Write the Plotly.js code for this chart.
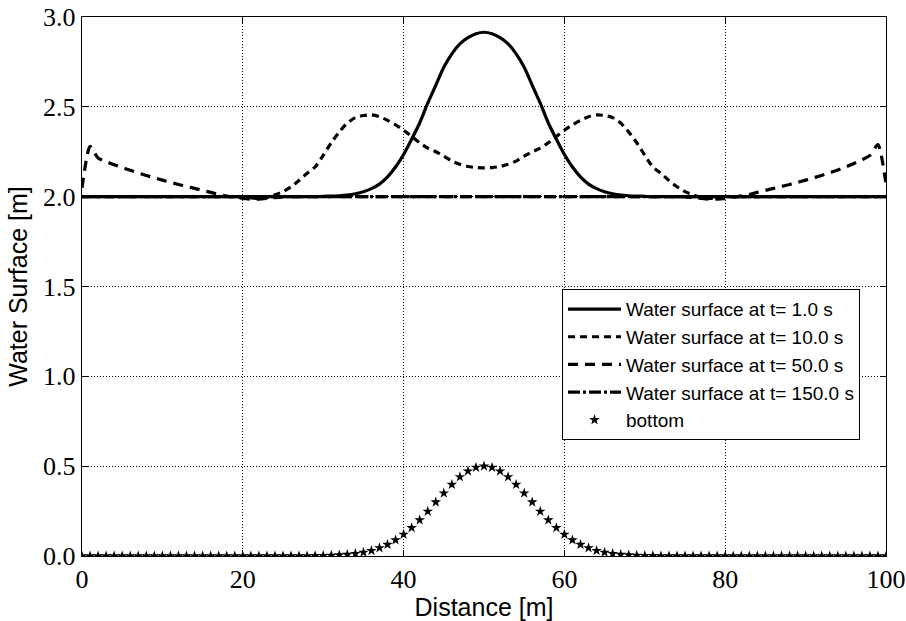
<!DOCTYPE html>
<html>
<head>
<meta charset="utf-8">
<script src="https://cdn.plot.ly/plotly-3.0.1.min.js"></script>
</head>
<body style="margin:0">
<div id="chart"></div>
<script>
// Distance [m]
const distance = [0,1,2,3,4,5,6,7,8,9,10,11,12,13,14,15,16,17,18,19,20,21,22,23,24,25,26,27,28,29,30,31,32,33,34,35,36,37,38,39,40,41,42,43,44,45,46,47,48,49,50,51,52,53,54,55,56,57,58,59,60,61,62,63,64,65,66,67,68,69,70,71,72,73,74,75,76,77,78,79,80,81,82,83,84,85,86,87,88,89,90,91,92,93,94,95,96,97,98,99,100];

// Water surface at t = 1.0 s
const surfT1 = [
2.0,2.0,2.0,2.0,2.0,2.0,2.0,2.0,2.0,2.0,2.0,2.0,2.0,2.0,2.0,2.0,2.0,2.0,2.0,2.0,2.0,2.0,2.0,2.0,2.0,2.0,2.0,2.0,2.0,2.0,
2.002,2.003,2.005,2.009,2.016,2.027,2.045,2.07,2.11,2.165,2.235,2.32,2.41,2.52,2.62,2.72,2.795,2.85,2.885,2.907,2.915,
2.907,2.885,2.85,2.795,2.72,2.62,2.52,2.41,2.32,2.235,2.165,2.11,2.07,2.045,2.027,2.016,2.009,2.005,2.003,2.002,
2.0,2.0,2.0,2.0,2.0,2.0,2.0,2.0,2.0,2.0,2.0,2.0,2.0,2.0,2.0,2.0,2.0,2.0,2.0,2.0,2.0,2.0,2.0,2.0,2.0,2.0,2.0,2.0,2.0,2.0];

// Water surface at t = 10.0 s
const surfT10 = [
2.0,2.0,2.0,2.0,2.0,2.0,2.0,2.0,2.0,2.0,2.0,2.0,2.0,2.0,2.0,2.0,2.0,2.0,2.0,
2.0,1.998,1.993,1.99,1.995,2.01,2.028,2.055,2.09,2.13,2.165,2.23,2.30,2.36,2.41,2.44,2.452,2.455,2.445,2.425,2.40,2.37,2.335,2.30,2.27,2.25,2.225,2.198,2.18,2.168,2.162,2.16,
2.162,2.168,2.18,2.198,2.225,2.25,2.27,2.30,2.335,2.37,2.40,2.425,2.445,2.455,2.452,2.44,2.41,2.36,2.30,2.23,2.165,2.13,2.09,2.055,2.028,2.01,1.995,1.99,1.993,1.998,2.0,
2.0,2.0,2.0,2.0,2.0,2.0,2.0,2.0,2.0,2.0,2.0,2.0,2.0,2.0,2.0,2.0,2.0,2.0,2.0];

// Water surface at t = 50.0 s
const surfT50 = [
2.05,2.28,2.215,2.195,2.178,2.162,2.147,2.132,2.118,2.105,2.092,2.08,2.068,2.057,2.046,2.035,2.024,2.013,2.004,1.997,1.99,1.986,1.986,1.99,1.995,1.999,
2.0,2.0,2.0,2.0,2.0,2.0,2.0,2.0,2.0,2.0,2.0,2.0,2.0,2.0,2.0,2.0,2.0,2.0,2.0,2.0,2.0,2.0,2.0,2.0,2.0,2.0,2.0,2.0,2.0,2.0,2.0,2.0,2.0,2.0,2.0,2.0,2.0,2.0,2.0,2.0,2.0,2.0,2.0,2.0,2.0,2.0,2.0,2.0,2.0,
1.999,1.995,1.99,1.986,1.986,1.99,1.997,2.004,2.012,2.024,2.035,2.046,2.057,2.068,2.08,2.092,2.105,2.118,2.133,2.148,2.165,2.185,2.205,2.23,2.29,2.07];

// Water surface at t = 150.0 s
const surfT150 = [
2.0,2.0,2.0,2.0,2.0,2.0,2.0,2.0,2.0,2.0,2.0,2.0,2.0,2.0,2.0,2.0,2.0,2.0,2.0,2.0,2.0,2.0,2.0,2.0,2.0,2.0,2.0,2.0,2.0,2.0,2.0,2.0,2.0,2.0,2.0,2.0,2.0,2.0,2.0,2.0,2.0,2.0,2.0,2.0,2.0,2.0,2.0,2.0,2.0,2.0,2.0,
2.0,2.0,2.0,2.0,2.0,2.0,2.0,2.0,2.0,2.0,2.0,2.0,2.0,2.0,2.0,2.0,2.0,2.0,2.0,2.0,2.0,2.0,2.0,2.0,2.0,2.0,2.0,2.0,2.0,2.0,2.0,2.0,2.0,2.0,2.0,2.0,2.0,2.0,2.0,2.0,2.0,2.0,2.0,2.0,2.0,2.0,2.0,2.0,2.0,2.0];

// Bottom elevation
const bottom = [
0,0,0,0,0,0,0,0,0,0,0,0,0,0,0,0,0,0,0,0,0,0,0,0,0,0,0,0,0,
0.001,0.002,0.003,0.005,0.008,0.013,0.020,0.030,0.045,0.064,0.089,0.120,0.157,0.200,0.248,0.300,0.350,0.398,0.440,0.472,0.493,0.5,
0.493,0.472,0.440,0.398,0.350,0.300,0.248,0.200,0.157,0.120,0.089,0.064,0.045,0.030,0.020,0.013,0.008,0.005,0.003,0.002,0.001,
0,0,0,0,0,0,0,0,0,0,0,0,0,0,0,0,0,0,0,0,0,0,0,0,0,0,0,0,0];

const seriesNames = ['Water surface at t= 1.0 s','Water surface at t= 10.0 s','Water surface at t= 50.0 s','Water surface at t= 150.0 s','bottom'];
const xTicks = [0,20,40,60,80,100];
const yTicks = [0,0.5,1,1.5,2,2.5,3];
const yTickText = ['0.0','0.5','1.0','1.5','2.0','2.5','3.0'];

function lineTrace(y, name, dash) {
  return {x: distance, y: y, name: name, type: 'scatter', mode: 'lines',
    line: {color: '#000', width: 3.2, dash: dash, shape: 'spline', smoothing: 0.6}};
}

const traces = [
  lineTrace(surfT1, seriesNames[0], 'solid'),
  lineTrace(surfT10, seriesNames[1], '7px,5px'),
  lineTrace(surfT50, seriesNames[2], '10px,7px'),
  lineTrace(surfT150, seriesNames[3], '12px,3px,3px,3px'),
  {x: distance, y: bottom, name: seriesNames[4], type: 'scatter', mode: 'markers',
   marker: {symbol: 'star', size: 8, color: '#000'}}
];

const layout = {
  width: 906, height: 621,
  margin: {l: 82, r: 20, t: 17, b: 65},
  paper_bgcolor: '#fff', plot_bgcolor: '#fff',
  showlegend: true,
  xaxis: {
    range: [0, 100], tickmode: 'array', tickvals: xTicks,
    showline: true, linecolor: '#000', linewidth: 1.2, mirror: 'ticks',
    ticks: 'inside', ticklen: 6, tickcolor: '#000', tickwidth: 1,
    showgrid: true, gridcolor: '#000', gridwidth: 1, griddash: '1px,2px', zeroline: false,
    tickfont: {family: 'Liberation Serif', size: 26, color: '#000'},
    title: {text: 'Distance [m]', font: {family: 'Liberation Sans', size: 25, color: '#000'}, standoff: 3}
  },
  yaxis: {
    range: [0, 3], tickmode: 'array', tickvals: yTicks, ticktext: yTickText,
    showline: true, linecolor: '#000', linewidth: 1.2, mirror: 'ticks',
    ticks: 'inside', ticklen: 6, tickcolor: '#000', tickwidth: 1,
    showgrid: true, gridcolor: '#000', gridwidth: 1, griddash: '1px,2px', zeroline: false,
    tickfont: {family: 'Liberation Serif', size: 26, color: '#000'},
    title: {text: 'Water Surface [m]', font: {family: 'Liberation Sans', size: 25, color: '#000'}, standoff: 8}
  },
  legend: {
    x: 0.597, y: 0.495, xanchor: 'left', yanchor: 'top',
    bgcolor: '#fff', bordercolor: '#000', borderwidth: 1,
    font: {family: 'Liberation Sans', size: 19, color: '#000'},
    itemwidth: 53, tracegroupgap: 0
  }
};

Plotly.newPlot('chart', traces, layout, {staticPlot: true});
</script>
</body>
</html>
